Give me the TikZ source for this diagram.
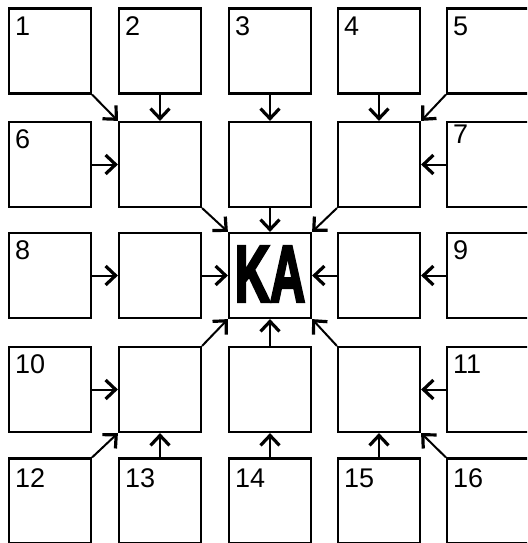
\documentclass[tikz,border=0pt]{standalone}
\usepackage{fontspec}
\setmainfont{Liberation Sans}
\newfontfamily\kafont[FakeBold=4]{Liberation Sans}
\usetikzlibrary{arrows.meta}

\tikzset{
  box/.style={draw, line width=2.2pt, minimum width=82pt, minimum height=85pt, inner sep=0pt},
  num/.style={anchor=north west, inner sep=0pt, font=\fontsize{27}{27}\selectfont},
  arr/.style={line width=2pt, -{Straight Barb[length=10pt, width=19pt, line width=3.2pt]}}
}

\begin{document}
\begin{tikzpicture}[x=1pt, y=-1pt]
    \useasboundingbox (0,0) rectangle (527,543);
    \clip (0,0) rectangle (527,543);

    % outer boxes
    \node[box] (n1) at (50,51) {};
    \node[box] (n2) at (160,51) {};
    \node[box] (n3) at (270,51) {};
    \node[box] (n4) at (379,51) {};
    \node[box] (n5) at (488,51) {};
    \node[box] (n6) at (50,164.5) {};
    \node[box] (n7) at (488,164.5) {};
    \node[box] (n8) at (50,275.5) {};
    \node[box] (n9) at (488,275.5) {};
    \node[box] (n10) at (50,389.5) {};
    \node[box] (n11) at (488,389.5) {};
    \node[box] (n12) at (50,501) {};
    \node[box] (n13) at (160,501) {};
    \node[box] (n14) at (270,501) {};
    \node[box] (n15) at (379,501) {};
    \node[box] (n16) at (488,501) {};

    % inner ring
    \node[box] (itl) at (160,164.5) {};
    \node[box] (it)  at (270,164.5) {};
    \node[box] (itr) at (379,164.5) {};
    \node[box] (il)  at (160,275.5) {};
    \node[box] (ir)  at (379,275.5) {};
    \node[box] (ibl) at (160,389.5) {};
    \node[box] (ib)  at (270,389.5) {};
    \node[box] (ibr) at (379,389.5) {};

    \node[box, font=\fontsize{80}{80}\kafont\bfseries] (ka) at (270,275.5) {\raisebox{3pt}{\scalebox{0.61}[1]{KA}}};

    % numbers
    \node[num] at ([shift={(7,9)}]n1.north west) {1};
    \node[num] at ([shift={(7,9)}]n2.north west) {2};
    \node[num] at ([shift={(7,9)}]n3.north west) {3};
    \node[num] at ([shift={(7,9)}]n4.north west) {4};
    \node[num] at ([shift={(7,9)}]n5.north west) {5};
    \node[num] at ([shift={(7,9)}]n6.north west) {6};
    \node[num] at ([shift={(7,4)}]n7.north west) {7};
    \node[num] at ([shift={(7,9)}]n8.north west) {8};
    \node[num] at ([shift={(7,9)}]n9.north west) {9};
    \node[num] at ([shift={(7,9)}]n10.north west) {10};
    \node[num] at ([shift={(7,9)}]n11.north west) {11};
    \node[num] at ([shift={(7,11)}]n12.north west) {12};
    \node[num] at ([shift={(7,11)}]n13.north west) {13};
    \node[num] at ([shift={(7,11)}]n14.north west) {14};
    \node[num] at ([shift={(7,11)}]n15.north west) {15};
    \node[num] at ([shift={(7,11)}]n16.north west) {16};

    % outer to inner
    \draw[arr] (n1.south east) -- (itl.north west);
    \draw[arr] (n2.south) -- (itl.north);
    \draw[arr] (n6.east) -- (itl.west);
    \draw[arr] (n3.south) -- (it.north);
    \draw[arr] (n4.south) -- (itr.north);
    \draw[arr] (n5.south west) -- (itr.north east);
    \draw[arr] (n7.west) -- (itr.east);
    \draw[arr] (n8.east) -- (il.west);
    \draw[arr] (n9.west) -- (ir.east);
    \draw[arr] (n10.east) -- (ibl.west);
    \draw[arr] (n12.north east) -- (ibl.south west);
    \draw[arr] (n13.north) -- (ibl.south);
    \draw[arr] (n14.north) -- (ib.south);
    \draw[arr] (n15.north) -- (ibr.south);
    \draw[arr] (n16.north west) -- (ibr.south east);
    \draw[arr] (n11.west) -- (ibr.east);

    % inner to KA
    \draw[arr] (itl.south east) -- (ka.north west);
    \draw[arr] (it.south) -- (ka.north);
    \draw[arr] (itr.south west) -- (ka.north east);
    \draw[arr] (il.east) -- (ka.west);
    \draw[arr] (ir.west) -- (ka.east);
    \draw[arr] (ibl.north east) -- (ka.south west);
    \draw[arr] (ib.north) -- (ka.south);
    \draw[arr] (ibr.north west) -- (ka.south east);
\end{tikzpicture}
\end{document}
